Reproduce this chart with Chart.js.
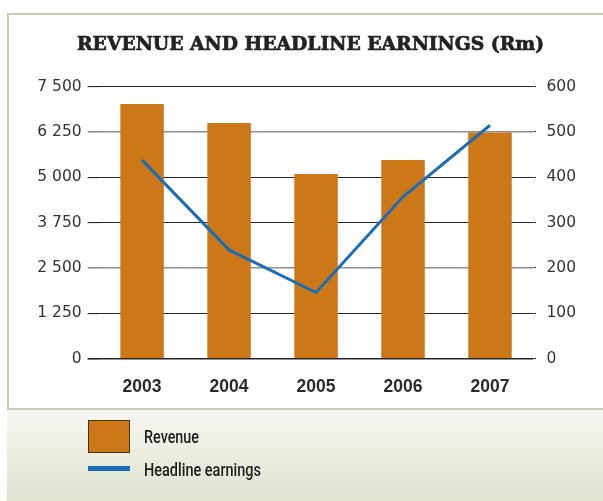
<!DOCTYPE html>
<html>
<head>
<meta charset="utf-8">
<script src="https://cdn.jsdelivr.net/npm/chart.js@4.4.1/dist/chart.umd.min.js"></script>
<style>
  html, body { margin:0; padding:0; background:#fff; }
  #wrap { position:relative; width:603px; height:501px; overflow:hidden; }
  #frame { position:absolute; left:7px; top:13px; width:640px; height:393px; border:2.5px solid #c9cdb2; background:#fff; }
  #lower { position:absolute; left:7px; top:410px; width:600px; height:91px;
           background:linear-gradient(#f6f7f1, #dfe2cf); }
  canvas { position:absolute; left:0; top:0; }
  .sw { position:absolute; }
  .lt { position:absolute; font-family:Roboto, "DejaVu Sans Condensed", sans-serif; font-size:19px; font-weight:500; color:#1e1e1e;
        white-space:nowrap; transform-origin:0 50%; line-height:20px; }
</style>
</head>
<body>
<div id="wrap">
  <div id="frame"></div>
  <div id="lower"></div>
  <canvas id="c" width="603" height="501"></canvas>
  <div class="sw" style="left:88px;top:420px;width:40px;height:31px;background:#cc7818;border:1px solid #4a3212;"></div>
  <div class="sw" style="left:88px;top:466px;width:42px;height:5px;background:#1b6db5;"></div>
  <div class="lt" id="l1" data-w="55" style="left:143.5px;top:426.5px;">Revenue</div>
  <div class="lt" id="l2" data-w="117" style="left:143.5px;top:460px;">Headline earnings</div>
</div>
<script>
const categories = ['2003', '2004', '2005', '2006', '2007'];
const revenue = [7020, 6500, 5090, 5480, 6240];
const headlineEarnings = [438, 240, 146, 357, 515];
const leftTicks = [0, 1250, 2500, 3750, 5000, 6250, 7500];
const rightTicks = [0, 100, 200, 300, 400, 500, 600];
const titleText = 'REVENUE AND HEADLINE EARNINGS (Rm)';

document.querySelectorAll('.lt').forEach(el => {
  const w = el.getBoundingClientRect().width;
  el.style.transform = 'scaleX(' + (parseFloat(el.dataset.w) / w) + ')';
});

const fmt = v => String(v).replace(/\B(?=(\d{3})+(?!\d))/g, ' ');
const gridColor = ctx => ([6250, 2500].includes(ctx.tick && ctx.tick.value) ? '#8e8e8e' : '#262626');
const gridWidth = ctx => ([6250, 2500].includes(ctx.tick && ctx.tick.value) ? 1.6 : (ctx.tick && ctx.tick.value === 0 ? 1.6 : 1.1));

const titlePlugin = {
  id: 'fixedTitle',
  afterDraw(chart) {
    const ctx = chart.ctx;
    ctx.save();
    ctx.font = 'bold 19px "DejaVu Serif", serif';
    ctx.fillStyle = '#222';
    ctx.strokeStyle = '#222';
    ctx.lineWidth = 0.7;
    ctx.textBaseline = 'middle';
    ctx.textAlign = 'center';
    const w = ctx.measureText(titleText).width;
    const sx = 467 / w;
    ctx.translate(310.5, 45);
    ctx.scale(sx, 1);
    ctx.fillText(titleText, 0, 0);
    ctx.strokeText(titleText, 0, 0);
    ctx.restore();
  }
};

new Chart(document.getElementById('c'), {
  data: {
    labels: categories,
    datasets: [
      { type: 'line', label: 'Headline earnings', data: headlineEarnings, yAxisID: 'y1',
        borderColor: '#1b6db5', borderWidth: 3, pointRadius: 0, tension: 0, order: 0 },
      { type: 'bar', label: 'Revenue', data: revenue, yAxisID: 'y',
        backgroundColor: '#cc7818', barPercentage: 0.5, categoryPercentage: 1.0, order: 1 }
    ]
  },
  options: {
    responsive: false,
    animation: false,
    layout: { padding: { top: 86.7, left: 0, right: 0, bottom: 0 } },
    plugins: { legend: { display: false }, title: { display: false }, tooltip: { enabled: false } },
    scales: {
      x: {
        grid: { display: false, drawTicks: false },
        border: { display: false },
        ticks: { font: { family: 'Liberation Sans, Arial, sans-serif', weight: 'bold', size: 17.5 }, color: '#2a2a2a', padding: 18 },
        afterFit: s => { s.height = 142.3; }
      },
      y: {
        position: 'left', min: 0, max: 7500,
        afterBuildTicks: s => { s.ticks = leftTicks.map(v => ({ value: v })); },
        ticks: { callback: v => fmt(v), font: { family: 'DejaVu Sans', size: 15.5 }, color: '#333', padding: 6 },
        grid: { color: gridColor, lineWidth: gridWidth, tickLength: 11, drawTicks: true },
        border: { display: false },
        afterFit: s => { s.width = 98.6; }
      },
      y1: {
        position: 'right', min: 0, max: 600,
        afterBuildTicks: s => { s.ticks = rightTicks.map(v => ({ value: v })); },
        ticks: { font: { family: 'DejaVu Sans', size: 15.5 }, color: '#333', padding: 10.5 },
        grid: { drawOnChartArea: false, color: '#262626', lineWidth: 1.1, tickLength: 2.5 },
        border: { display: false },
        afterFit: s => { s.width = 69.5; }
      }
    }
  },
  plugins: [titlePlugin]
});
</script>
</body>
</html>
